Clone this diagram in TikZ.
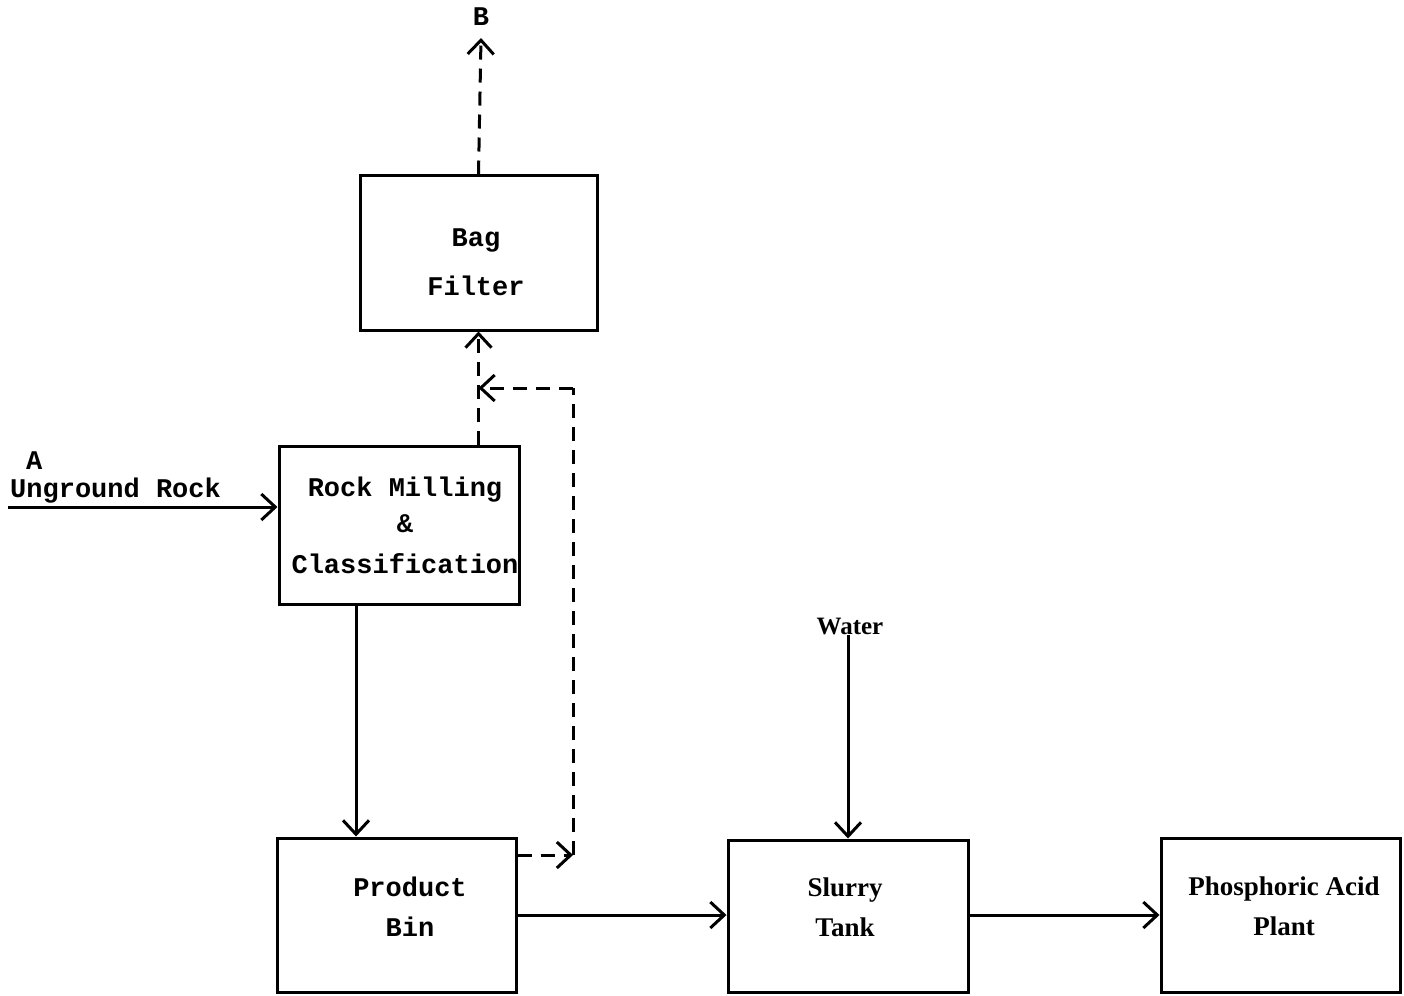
\documentclass[tikz,border=0pt]{standalone}
\usepackage{fontspec}
\usetikzlibrary{arrows.meta}
\newfontfamily\twfont{Liberation Mono}
\newfontfamily\psfont{Liberation Serif}
\begin{document}
\begin{tikzpicture}[x=1pt,y=-1pt,
  box/.style={draw,line width=3pt,rectangle,inner sep=0pt},
  twtext/.style={font=\twfont\bfseries\fontsize{27}{36}\selectfont,align=center,inner sep=0pt},
  pstext/.style={font=\psfont\bfseries\fontsize{27}{40}\selectfont,align=center,inner sep=0pt},
  arr/.style={line width=3pt,-{Straight Barb[length=14pt,width=26pt]}},
  darr/.style={line width=3pt,dash pattern=on 14pt off 9pt,-{Straight Barb[length=14pt,width=26pt]}},
  dline/.style={line width=3pt,dash pattern=on 14pt off 9pt}]
\useasboundingbox (0,0) rectangle (1404,995);
% boxes
\node[box,minimum width=237pt,minimum height=154pt] (bag) at (478.5,253) {};
\node[box,minimum width=240pt,minimum height=158pt] (mill) at (399,525) {};
\node[box,minimum width=239pt,minimum height=154pt] (bin) at (396.5,915) {};
\node[box,minimum width=240pt,minimum height=152pt] (slurry) at (848,916) {};
\node[box,minimum width=239pt,minimum height=154pt] (plant) at (1280.5,915) {};
% box texts
\node[twtext] (bagtxt) at (476,262) {Bag\\[13pt]Filter};
\node[twtext] (milltxt) at (405,525) {Rock Milling\\[0pt]\&\\[5pt]Classification};
\node[twtext] (bintxt) at (410,907) {Product\\[4pt]Bin};
\node[pstext] (slurrytxt) at (845,907) {Slurry\\Tank};
\node[pstext] (planttxt) at (1284,906) {Phosphoric Acid\\Plant};
% labels
\node[twtext,anchor=west] (lblA) at (26,461) {A};
\node[twtext,anchor=west] (lblrock) at (10,491) {Unground Rock};
\node[twtext] (lblB) at (481,17) {B};
\node[pstext,font=\psfont\bfseries\fontsize{25}{30}\selectfont] (water) at (850,626) {Water};
% connectors
\coordinate (rockin) at (8,507);
\draw[arr] (rockin) -- (mill.west |- rockin);
\draw[arr] ([xshift=-43pt]mill.south) -- ([xshift=-43pt]mill.south |- bin.north);
\draw[darr] (bag.south |- mill.north) -- (bag.south);
\coordinate (Bend) at (481,38);
\draw[darr] (bag.north) -- (Bend);
\coordinate (j1) at (573,855);
\coordinate (j2) at (573,388);
\draw[darr] (bin.east |- j1) -- (j1);
\draw[dline] (j1) -- (j2);
\draw[darr] (j2) -- (bag.south |- j2);
\draw[arr] (bin.east) -- (slurry.west |- bin.east);
\draw[arr] ([xshift=-2pt]water.south) -- ([xshift=-2pt]water.south |- slurry.north);
\draw[arr] (slurry.east |- plant.west) -- (plant.west);
\end{tikzpicture}
\end{document}
